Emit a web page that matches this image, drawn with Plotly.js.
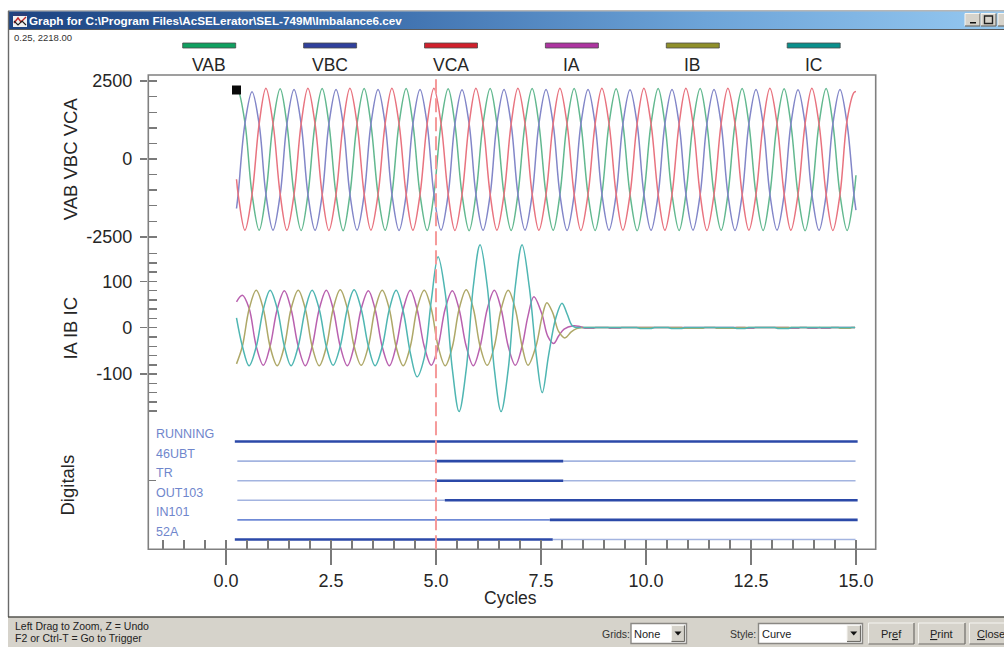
<!DOCTYPE html>
<html>
<head>
<meta charset="utf-8">
<title>Graph for Imbalance6.cev</title>
<script src="https://cdn.plot.ly/plotly-3.0.1.min.js"></script>
<style>
html,body{margin:0;padding:0;background:#fff;overflow:hidden}
#wrap{position:relative;width:1004px;height:647px}
#bar{position:absolute;left:9px;top:11px;width:995px;height:18px;background:linear-gradient(90deg,#1d4482 0%,#3a6cab 35%,#6da4d8 70%,#95c8f0 100%)}
#chart{position:absolute;left:0;top:0;width:1004px;height:647px}
</style>
</head>
<body>
<div id="wrap"><div id="bar"></div><div id="chart"></div></div>
<script>
// ---------- Voltage panel (cycles, volts) ----------
const voltCycles = [0.25,
 0.29,0.45,0.62,0.79,0.95,1.12, 1.29,1.45,1.62,1.79,1.95,2.12, 2.29,2.45,2.62,2.79,2.95,3.12,
 3.29,3.45,3.62,3.79,3.95,4.12, 4.29,4.45,4.62,4.79,4.95,5.12, 5.29,5.45,5.62,5.79,5.95,6.12,
 6.29,6.45,6.62,6.79,6.95,7.12, 7.29,7.45,7.62,7.79,7.95,8.12, 8.29,8.45,8.62,8.79,8.95,9.12,
 9.29,9.45,9.62,9.79,9.95,10.12, 10.29,10.45,10.62,10.79,10.95,11.12, 11.29,11.45,11.62,11.79,11.95,12.12,
 12.29,12.45,12.62,12.79,12.95,13.12, 13.29,13.45,13.62,13.79,13.95,14.12, 14.29,14.45,14.62,14.79,14.95,
 15.0];
const VAB = [2218,
 2195,1180,-1125,-2290,-1140,1130, 2255,1130,-1135,-2295,-1150,1125, 2265,1135,-1140,-2300,-1145,1130,
 2260,1130,-1135,-2290,-1150,1135, 2265,1135,-1140,-2295,-1145,1130, 2255,1130,-1135,-2300,-1150,1125,
 2265,1135,-1140,-2295,-1145,1130, 2260,1130,-1135,-2290,-1150,1135, 2265,1135,-1140,-2295,-1145,1130,
 2255,1130,-1135,-2300,-1150,1125, 2265,1135,-1140,-2295,-1145,1130, 2260,1130,-1135,-2290,-1150,1135,
 2265,1135,-1140,-2295,-1145,1130, 2255,1130,-1135,-2300,-1150,1125, 2265,1135,-1140,-2295,-1145,
 -520];
const VBC = [-1590,
 -1130,1130,2160,1110,-1120,-2285, -1145,1115,2230,1120,-1125,-2290, -1150,1120,2235,1115,-1120,-2285,
 -1145,1115,2230,1120,-1125,-2295, -1150,1120,2235,1115,-1120,-2285, -1145,1115,2225,1120,-1125,-2290,
 -1150,1120,2235,1115,-1120,-2285, -1145,1115,2230,1120,-1125,-2295, -1150,1120,2235,1115,-1120,-2285,
 -1145,1115,2225,1120,-1125,-2290, -1150,1120,2235,1115,-1120,-2285, -1145,1115,2230,1120,-1125,-2295,
 -1150,1120,2235,1115,-1120,-2285, -1145,1115,2225,1120,-1125,-2290, -1150,1120,2235,1115,-1120,
 -1640];
const VCA = [-650,
 -1140,-2285,-1135,1130,2270,1140, -1130,-2290,-1140,1135,2275,1135, -1135,-2295,-1135,1130,2270,1140,
 -1130,-2285,-1140,1135,2275,1135, -1135,-2290,-1135,1130,2270,1140, -1130,-2295,-1140,1135,2275,1135,
 -1135,-2285,-1135,1130,2270,1140, -1130,-2290,-1140,1135,2275,1135, -1135,-2295,-1135,1130,2270,1140,
 -1130,-2285,-1140,1135,2275,1135, -1135,-2290,-1135,1130,2270,1140, -1130,-2295,-1140,1135,2275,1135,
 -1135,-2285,-1135,1130,2270,1140, -1130,-2290,-1140,1135,2275,1135, -1135,-2295,-1135,1250,2130,
 2165];

// ---------- Current panel (cycles, amps) ----------
const curCycles = [0.25,
 0.39,0.55,0.72,0.89,1.05,1.22, 1.39,1.55,1.72,1.89,2.05,2.22, 2.39,2.55,2.72,2.89,3.05,3.22,
 3.39,3.55,3.72,3.89,4.05,4.22, 4.39,4.55,4.72,4.89,5.05,5.22, 5.39,5.55,5.72,5.89,6.05,6.22,
 6.39,6.55,6.72,6.89];
const IAhead = [56,
 70,42,-40,-81,-40,40, 80,40,-40,-82,-41,40, 81,41,-40,-82,-40,41,
 80,40,-41,-82,-40,40, 81,40,-40,-81,-41,41, 80,40,-40,-82,-41,40,
 81,41,-40,-81];
const IBhead = [-78,
 -40,40,81,40,-41,-82, -40,41,81,40,-40,-82, -41,40,82,41,-40,-81,
 -40,40,81,40,-41,-82, -40,41,81,40,-40,-82, -41,40,82,41,-40,-81,
 -40,40,81,40];
const ICvalues = [21,
 -40,-82,-41,40,81,41, -40,-82,-40,40,81,40, -41,-81,-40,41,82,40,
 -40,-82,-41,40,81,35, -55,-106,-65,60,153,75, -90,-181,-90,90,179,90,
 -90,-181,-90,90];

const IAtailX = [7.05,7.19,7.33,7.52,7.66,7.80,7.92,8.05,8.27,8.40,8.50];
const IAtailY = [-40,25,67,30,-18,-34,-18,-3,4,3,0.5];
const IBtailX = [7.05,7.19,7.38,7.53,7.64,7.78,7.92,8.07,8.22,8.35,8.48];
const IBtailY = [-40,-81,-40,25,54,32,-8,-22,-9,-2,0.5];
const ICtailX = [7.05,7.22,7.39,7.53,7.68,7.85,8.00,8.12,8.23,8.31,8.45];
const ICtailY = [179,89,-60,-140,-60,20,53,30,6,1,0.6];

// settled, near-zero part of the currents after the trip
const IApostX = [8.50,8.55,8.75,8.80,9.10,9.14,9.38,9.42,12.36,12.40,12.56,12.60,13.39,13.43,13.63,13.67,13.82,13.86,14.06,14.10,14.14,14.18,14.38,14.42,14.98];
const IApostY = [0.5,-1.2,-1.2,0.5,0.5,-1.2,-1.2,0.5,0.5,-1.2,-1.2,0.5,0.5,-1.2,-1.2,0.5,0.5,-1.2,-1.2,0.5,0.5,-1.2,-1.2,0.5,0.5];
const IBpostX = [8.48,10.85,10.89,11.36,11.40,11.64,11.68,12.12,12.16,14.58,14.62,14.86,14.90,14.98];
const IBpostY = [0.5,0.5,-1.2,-1.2,0.5,0.5,-1.2,-1.2,0.5,0.5,-1.2,-1.2,0.5,0.5];
const ICpostX = [8.45,9.78,9.86,10.13,10.20,10.53,10.60,10.86,10.92,12.08,12.16,12.36,12.44,13.07,13.14,13.40,13.46,14.98];
const ICpostY = [0.6,0.6,-1.8,-1.8,0.6,0.6,-1.8,-1.8,0.6,0.6,-1.8,-1.8,0.6,0.6,-1.8,-1.8,0.6,0.6];

// ---------- Digitals: [start, end, null, start, end] in cycles ----------
const digitalNames = ['RUNNING','46UBT','TR','OUT103','IN101','52A'];
const digitalRows  = [5,4,3,2,1,0];
const digitalOn  = [[0.21,15.04],[5,8.03],[5,8.03],[5.21,15.04],[7.71,15.04],[0.21,7.78]];
const digitalOff = [[],[0.27,5,null,8.03,14.99],[0.27,5,null,8.03,14.99],[0.27,5.21],[0.27,7.71],[7.78,14.99]];

// ---------- Labels ----------
const legendNames  = ['VAB','VBC','VCA','IA','IB','IC'];
const legendColors = ['#10a060','#30409c','#d0202c','#ad35a0','#8f8f2a','#0a8f8c'];
const curveColors  = ['#62b88f','#8286c8','#e8737f','#b961af','#aea868','#4fb6b2'];
const upperTickVals = [2500,0,-2500], upperTickText = ['2500','0','-2500'];
const lowerTickVals = [100,0,-100],  lowerTickText = ['100','0','-100'];
const triggerCycle = 5;
const cursorCycle = [0.25], cursorValue = [2218];
const windowTitle = 'Graph for C:\\Program Files\\AcSELerator\\SEL-749M\\Imbalance6.cev';
const cursorText = '0.25, 2218.00';
const statusLines = ['Left Drag to Zoom, Z = Undo','F2 or Ctrl-T = Go to Trigger'];

// ---------- helpers ----------
const W = 1004, H = 647;
const fx = v => v / W, fy = v => 1 - v / H;
const FONT = '"Liberation Sans", Arial, sans-serif';
const AX = '#7a7a7a', INK = '#262626';
const shapes = [], annotations = [];
function rect(x0,y0,x1,y1,fill,line,lw){
  shapes.push({type:'rect',xref:'paper',yref:'paper',x0:fx(x0),x1:fx(x1),y0:fy(y0),y1:fy(y1),
    fillcolor:fill,line:{color:line||fill,width:line?(lw||1):0},layer:'below'});
}
function seg(x0,y0,x1,y1,color,w){
  shapes.push({type:'line',xref:'paper',yref:'paper',x0:fx(x0),x1:fx(x1),y0:fy(y0),y1:fy(y1),
    line:{color:color,width:w||1},layer:'below'});
}
function label(text,x,y,size,color,anchor,extra){
  annotations.push(Object.assign({text:text,xref:'paper',yref:'paper',x:fx(x),y:fy(y),showarrow:false,
    xanchor:anchor||'left',yanchor:'middle',font:{family:FONT,size:size,color:color||INK},borderpad:0,borderwidth:0},extra||{}));
}
function raised(x0,y0,x1,y1){
  rect(x0,y0,x1,y1,'#d6d3cb');
  seg(x0,y0,x1,y0,'#f6f5f1',1); seg(x0,y0,x0,y1,'#f6f5f1',1);
  seg(x0,y1,x1,y1,'#6f6d68',1.2); seg(x1,y0,x1,y1,'#6f6d68',1.2);
}
function combo(x0,y0,x1,y1,btn,text){
  rect(x0,y0,x1,y1,'#ffffff','#8a8884',1.4);
  raised(btn,y0+2,x1-2,y1-2);
  shapes.push({type:'path',xref:'paper',yref:'paper',
    path:`M ${fx((btn+x1-2)/2-3.5)} ${fy((y0+y1)/2-2)} L ${fx((btn+x1-2)/2+3.5)} ${fy((y0+y1)/2-2)} L ${fx((btn+x1-2)/2)} ${fy((y0+y1)/2+2)} Z`,
    fillcolor:'#111',line:{width:0},layer:'below'});
  label(text,x0+3,(y0+y1)/2,11,'#222');
}

// window chrome
rect(8,10,1004,11.5,'#b5b5b5');
rect(8,29,1004,30,'#5a5a5a');
seg(8.5,11,8.5,617,'#6a6a6a',1.4);
rect(8,617,1004,647,'#d6d3cb');
seg(8,617,1004,617,'#55544f',1.6);
// window icon
rect(13,13,27,27,'#f2f2f2');
rect(13,13,27,16,'#2a3f78');
shapes.push({type:'path',xref:'paper',yref:'paper',layer:'below',line:{color:'#c02525',width:1.4},
  path:`M ${fx(14)} ${fy(23)} L ${fx(18)} ${fy(18)} L ${fx(21)} ${fy(22)} L ${fx(26)} ${fy(17)}`});
shapes.push({type:'path',xref:'paper',yref:'paper',layer:'below',line:{color:'#222',width:1.2},
  path:`M ${fx(14)} ${fy(21)} L ${fx(18)} ${fy(25)} L ${fx(22)} ${fy(21)} L ${fx(26)} ${fy(25)}`});
label(windowTitle,28.5,20.5,11.7,'#ffffff','left',{font:{family:FONT,size:11.7,color:'#ffffff',weight:700}});
// title-bar buttons
raised(965,13.5,980,26); raised(981,13.5,996,26); raised(998,13.5,1006,26);
rect(970,22,976,23.5,'#111');
rect(984.5,16,992.5,23.5,'#d6d3cb','#222',1.4);
label(cursorText,14,38,9.5,'#333');
statusLines.forEach((s,i)=>label(s,15,625.5+i*12.5,10.5,'#222'));
label('Grids:',601.5,634,10.5,'#333');
combo(631,623.5,686.5,643.5,671.5,'None');
label('Style:',730,634,10.5,'#333');
combo(758.5,623.5,862.5,643.5,847,'Curve');
raised(868.5,623,914,644); raised(918.5,623,965,644); raised(969.5,623,1010,644);
const U = c => `<span style="text-decoration:underline">${c}</span>`;
label('Pr'+U('e')+'f',891,634,11,'#222','center');
label(U('P')+'rint',941.5,634,11,'#222','center');
label(U('C')+'lose',991,634,11,'#222','center');

// legend row
legendNames.forEach((n,i)=>{
  const left = 182.7 + i*120.9;
  rect(left,43,left+53,48,legendColors[i],'#4a4a4a',0.8);
  label(n,left+26.5,65,17.5,INK,'center');
});
// x-axis title
label('Cycles',510,598,17.5,INK,'center');
// plot frame
shapes.push({type:'rect',xref:'paper',yref:'paper',x0:fx(148.3),x1:fx(875.7),y0:fy(549.3),y1:fy(75),
  line:{color:'#808080',width:1.6},fillcolor:'rgba(0,0,0,0)',layer:'above'});
// trigger line
shapes.push({type:'line',xref:'x',yref:'paper',x0:triggerCycle,x1:triggerCycle,y0:fy(549.3),y1:fy(75.5),
  line:{color:'#f59a9a',width:2,dash:'14px,5px'},layer:'above'});

// digital row labels
digitalNames.forEach((n,i)=>{
  annotations.push({text:n,xref:'x',yref:'y3',x:-1.72,y:digitalRows[i],yshift:7.5,showarrow:false,
    xanchor:'left',yanchor:'middle',font:{family:FONT,size:12.5,color:'#6f86cc'}});
});

// ---------- traces ----------
const curve = (x,y,name,color,ya)=>({x:x,y:y,name:name,yaxis:ya,type:'scatter',mode:'lines',
  line:{color:color,width:1.5,shape:'spline',smoothing:1},hoverinfo:'skip'});
const flat = (x,y,name,color)=>({x:x,y:y,name:name,yaxis:'y2',type:'scatter',mode:'lines',
  line:{color:color,width:1.5},hoverinfo:'skip'});
const traces = [
  curve(voltCycles,VAB,'VAB',curveColors[0],'y'),
  curve(voltCycles,VBC,'VBC',curveColors[1],'y'),
  curve(voltCycles,VCA,'VCA',curveColors[2],'y'),
  flat(IApostX,IApostY,'IA settled',curveColors[3]),
  flat(IBpostX,IBpostY,'IB settled',curveColors[4]),
  flat(ICpostX,ICpostY,'IC settled',curveColors[5]),
  curve(curCycles.concat(IAtailX),IAhead.concat(IAtailY),'IA',curveColors[3],'y2'),
  curve(curCycles.concat(IBtailX),IBhead.concat(IBtailY),'IB',curveColors[4],'y2'),
  curve(curCycles.concat(ICtailX),ICvalues.concat(ICtailY),'IC',curveColors[5],'y2'),
  {x:cursorCycle,y:cursorValue,yaxis:'y',type:'scatter',mode:'markers',name:'cursor',
   marker:{symbol:'square',size:9,color:'#0a0a0a'},hoverinfo:'skip'}
];
digitalNames.forEach((n,i)=>{
  const row = a => a.map(v => v===null ? null : digitalRows[i]);
  if (digitalOff[i].length) traces.push({x:digitalOff[i],y:row(digitalOff[i]),yaxis:'y3',type:'scatter',mode:'lines',
    name:n+' off',line:{color:n==='IN101'?'#6f8ad6':'#a3b4e0',width:1.6},hoverinfo:'skip',connectgaps:false});
  traces.push({x:digitalOn[i],y:row(digitalOn[i]),yaxis:'y3',type:'scatter',mode:'lines',
    name:n+' on',line:{color:'#2b49a8',width:2.6},hoverinfo:'skip'});
});
// carriers that keep the inside-tick overlay axes alive
traces.push({x:[null],y:[null],yaxis:'y4',type:'scatter',mode:'lines',hoverinfo:'skip'});
traces.push({x:[null],y:[null],yaxis:'y5',type:'scatter',mode:'lines',hoverinfo:'skip'});
traces.push({x:[null],y:[null],xaxis:'x2',yaxis:'y3',type:'scatter',mode:'lines',hoverinfo:'skip'});

// ---------- axes ----------
const tickFont = {family:FONT,size:18,color:INK};
const dom = (top,bot)=>[fy(bot),fy(top)];
const xRange = [-1.85,15.47], xDom = [fx(148.3),fx(875.7)];
const upperRange = [-2713,2697], lowerRange = [-184,181.7], digRange = [-0.5,6.046];
const yBase = {showgrid:false,zeroline:false,showline:false,ticks:'outside',ticklen:7.5,tickwidth:1.5,tickcolor:AX,
  tickfont:tickFont,anchor:'x',fixedrange:true,ticklabelstandoff:4};
const titleFont = {family:FONT,size:18.5,color:INK};
const inside = (over,range,dt)=>({overlaying:over,range:range,dtick:dt,tick0:0,ticks:'inside',ticklen:9,tickwidth:1.5,tickcolor:AX,
  showticklabels:false,showgrid:false,zeroline:false,showline:false,anchor:'x',fixedrange:true});

const layout = {
  width:W,height:H,autosize:false,
  margin:{l:0,r:0,t:0,b:0,pad:0},
  paper_bgcolor:'rgba(0,0,0,0)',plot_bgcolor:'rgba(0,0,0,0)',
  showlegend:false,hovermode:false,dragmode:false,
  font:{family:FONT,color:INK},
  xaxis:{domain:xDom,range:xRange,anchor:'y3',tick0:0,dtick:2.5,tickformat:'.1f',ticks:'outside',ticklen:15,tickwidth:1.5,tickcolor:AX,
    tickfont:tickFont,showgrid:false,zeroline:false,showline:false,fixedrange:true},
  xaxis2:{overlaying:'x',range:xRange,anchor:'y3',tick0:0,dtick:0.5,ticks:'inside',ticklen:9,tickwidth:1.5,tickcolor:AX,
    showticklabels:false,showgrid:false,zeroline:false,showline:false,fixedrange:true},
  yaxis:Object.assign({},yBase,{domain:dom(75,243.5),range:upperRange,tickmode:'array',tickvals:upperTickVals,ticktext:upperTickText,
    title:{text:'VAB VBC VCA',font:titleFont,standoff:3}}),
  yaxis2:Object.assign({},yBase,{domain:dom(243.5,413),range:lowerRange,tickmode:'array',tickvals:lowerTickVals,ticktext:lowerTickText,
    title:{text:'IA IB IC',font:titleFont,standoff:13}}),
  yaxis3:Object.assign({},yBase,{domain:dom(421,549.3),range:digRange,tickmode:'array',tickvals:[3],ticktext:[''],ticks:'inside',ticklen:8,
    title:{text:'Digitals',font:titleFont,standoff:67}}),
  yaxis4:inside('y',upperRange,500),
  yaxis5:inside('y2',lowerRange,20),
  shapes:shapes,annotations:annotations
};
Plotly.newPlot('chart',traces,layout,{displayModeBar:false,staticPlot:true,responsive:false});
</script>
</body>
</html>
